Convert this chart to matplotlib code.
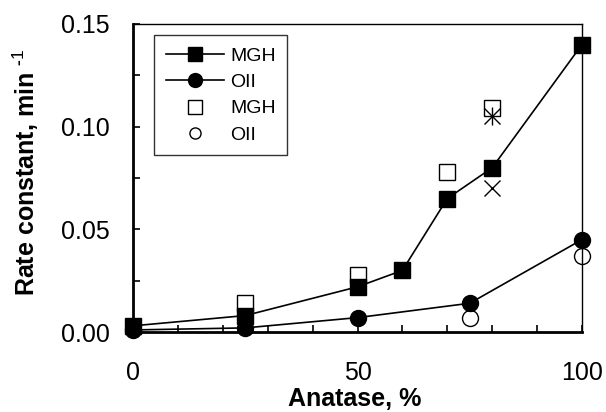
import matplotlib
matplotlib.use("Agg")
import matplotlib.pyplot as plt
from matplotlib.ticker import MultipleLocator, FormatStrFormatter

plt.rcParams["font.family"] = ["Liberation Sans", "DejaVu Sans"]
plt.rcParams["mathtext.fontset"] = "custom"
plt.rcParams["mathtext.rm"] = "Liberation Sans"

# filled series (connected)
mgh_x = [0, 25, 50, 60, 70, 80, 100]
mgh_y = [0.003, 0.008, 0.022, 0.030, 0.065, 0.080, 0.140]
oii_x = [0, 25, 50, 75, 100]
oii_y = [0.001, 0.002, 0.007, 0.014, 0.045]

# open markers
mgh_open_x = [25, 50, 70, 80]
mgh_open_y = [0.014, 0.028, 0.078, 0.109]
oii_open_x = [75, 100]
oii_open_y = [0.007, 0.037]

# extra markers at 80 %
star_x = [80]
star_y = [0.105]
cross_x = [80]
cross_y = [0.070]

fig = plt.figure(figsize=(6.06, 4.12), dpi=100)
ax = fig.add_axes([133 / 606, 80 / 412, 449 / 606, 308 / 412])

ax.plot(mgh_open_x, mgh_open_y, "s", color="black", mfc="white", ms=11,
        mew=1.0, label="MGH", clip_on=False, zorder=2)
ax.plot(oii_open_x, oii_open_y, "o", color="black", mfc="white", ms=11.5,
        mew=1.0, label="OII", clip_on=False, zorder=2)
ax.plot(mgh_x, mgh_y, "-s", color="black", lw=1.2, ms=12,
        label="MGH", clip_on=False, zorder=3)
ax.plot(oii_x, oii_y, "-o", color="black", lw=1.2, ms=11.5,
        label="OII", clip_on=False, zorder=3)
# asterisk = x plus vertical bar
ax.plot(star_x, star_y, "x", color="black", ms=11, mew=1.0, zorder=4)
ax.plot(star_x, star_y, "|", color="black", ms=13, mew=1.0, zorder=4)
ax.plot(cross_x, cross_y, "x", color="black", ms=12, mew=1.0, zorder=4)

ax.set_xlim(0, 100)
ax.set_ylim(0, 0.15)
ax.xaxis.set_major_locator(MultipleLocator(50))
ax.xaxis.set_minor_locator(MultipleLocator(10))
ax.yaxis.set_major_locator(MultipleLocator(0.05))
ax.yaxis.set_minor_locator(MultipleLocator(0.025))
ax.yaxis.set_major_formatter(FormatStrFormatter("%.2f"))
ax.tick_params(which="both", direction="in", top=False, right=False,
               labelsize=18, width=1.2, length=5)
ax.tick_params(axis="x", which="both", pad=21)
ax.tick_params(axis="y", which="both", pad=16.5)

for side in ("left", "bottom"):
    ax.spines[side].set_linewidth(2)
for side in ("top", "right"):
    ax.spines[side].set_linewidth(1)

ax.set_xlabel("Anatase, %", fontsize=18, fontweight="bold")
ax.xaxis.set_label_coords(0.494, -0.178)
ax.set_ylabel("Rate constant, min $^{\\mathregular{\u2010}1}$", fontsize=18,
              fontweight="bold")
ax.yaxis.set_label_coords(-0.205, 0.52)

handles, labels = ax.get_legend_handles_labels()
order = [2, 3, 0, 1]
leg = ax.legend([handles[i] for i in order], [labels[i] for i in order],
                loc="upper left", bbox_to_anchor=(0.047, 0.963), fontsize=14,
                frameon=True, fancybox=False, edgecolor="black",
                borderpad=0.6, labelspacing=0.45, handlelength=3.0,
                handletextpad=0.3, borderaxespad=0)
leg.get_frame().set_linewidth(1.0)
for h, ms in zip(leg.legend_handles, [10, 10, 9.5, 8]):
    h.set_markersize(ms)

fig.savefig("out.png", dpi=100)
